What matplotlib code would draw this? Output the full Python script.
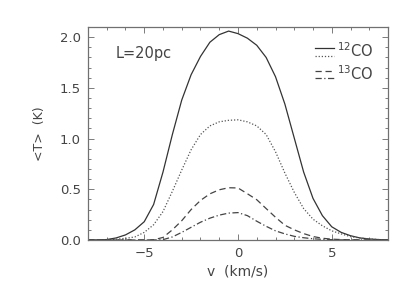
import matplotlib
matplotlib.use('Agg')
import matplotlib.pyplot as plt
from matplotlib.lines import Line2D
from matplotlib.legend_handler import HandlerBase
from matplotlib.ticker import MultipleLocator

# velocity grid (km/s)
v = [-8.0, -7.5, -7.0, -6.5, -6.0, -5.5, -5.0, -4.5, -4.0, -3.5, -3.0,
     -2.5, -2.0, -1.5, -1.0, -0.5, 0.0, 0.5, 1.0, 1.5, 2.0, 2.5, 3.0,
     3.5, 4.0, 4.5, 5.0, 5.5, 6.0, 6.5, 7.0, 7.5, 8.0]

# 12CO curves
co12_a = [0.0, 0.001, 0.004, 0.02, 0.05, 0.10, 0.18, 0.35, 0.67, 1.04, 1.38,
          1.63, 1.81, 1.95, 2.025, 2.06, 2.035, 1.99, 1.92, 1.80, 1.61, 1.34, 1.005,
          0.67, 0.41, 0.24, 0.13, 0.075, 0.042, 0.02, 0.01, 0.004, 0.001]
co12_b = [0.0, 0.001, 0.003, 0.008, 0.016, 0.03, 0.075, 0.15, 0.28, 0.48, 0.69,
          0.89, 1.04, 1.125, 1.165, 1.18, 1.185, 1.165, 1.125, 1.04, 0.87, 0.66, 0.47,
          0.31, 0.205, 0.14, 0.09, 0.06, 0.033, 0.02, 0.01, 0.004, 0.001]
# 13CO curves
co13_a = [0.0, 0.0, 0.0, 0.0, 0.0, 0.0, 0.0, 0.002, 0.025, 0.10, 0.19,
          0.30, 0.39, 0.455, 0.495, 0.515, 0.513, 0.456, 0.397, 0.31, 0.224, 0.145, 0.10,
          0.063, 0.034, 0.017, 0.008, 0.004, 0.002, 0.001, 0.0, 0.0, 0.0]
co13_b = [0.0, 0.0, 0.0, 0.0, 0.0, 0.0, 0.0, 0.0, 0.003, 0.03, 0.075,
          0.125, 0.175, 0.215, 0.245, 0.265, 0.27, 0.24, 0.185, 0.135, 0.09, 0.06, 0.036,
          0.022, 0.012, 0.006, 0.003, 0.001, 0.001, 0.0, 0.0, 0.0, 0.0]

ink = '#444444'
plt.rcParams['font.family'] = ['DejaVu Sans']
plt.rcParams['font.size'] = 9.5
plt.rcParams['text.color'] = ink
plt.rcParams['axes.labelcolor'] = ink
plt.rcParams['xtick.color'] = '#666666'
plt.rcParams['ytick.color'] = '#666666'
plt.rcParams['xtick.labelcolor'] = ink
plt.rcParams['ytick.labelcolor'] = ink
plt.rcParams['axes.edgecolor'] = '#707070'
plt.rcParams['mathtext.fontset'] = 'dejavusans'


class HandlerStack(HandlerBase):
    # draws the lines of a tuple handle stacked on top of each other
    def __init__(self, gap, **kw):
        HandlerBase.__init__(self, **kw)
        self.gap = gap

    def create_artists(self, legend, orig_handle, xdescent, ydescent,
                       width, height, fontsize, trans):
        out = []
        y0 = height / 2 + self.gap / 2
        for i, h in enumerate(orig_handle):
            y = y0 - i * self.gap
            l = Line2D([-xdescent, width - xdescent], [y, y])
            l.update_from(h)
            l.set_transform(trans)
            out.append(l)
        return out


fig = plt.figure(figsize=(4.15, 2.97), dpi=100)
ax = fig.add_axes([0.212, 0.192, 0.723, 0.717])

l1, = ax.plot(v, co12_a, color='#333333', lw=0.9, ls='-')
l2, = ax.plot(v, co12_b, color='#555555', lw=0.9, ls=(0, (1, 1.5)))
l3, = ax.plot(v, co13_a, color='#444444', lw=0.9, ls=(0, (5, 3)))
l4, = ax.plot(v, co13_b, color='#444444', lw=0.9, ls=(0, (5, 2, 1, 2)))

ax.set_xlim(-8, 8)
ax.set_ylim(0, 2.1)
ax.xaxis.set_major_locator(MultipleLocator(5))
ax.xaxis.set_minor_locator(MultipleLocator(1))
ax.yaxis.set_major_locator(MultipleLocator(0.5))
ax.yaxis.set_minor_locator(MultipleLocator(0.1))
ax.yaxis.set_major_formatter(plt.FormatStrFormatter('%.1f'))
ax.tick_params(which='both', direction='in', top=True, right=True, width=0.6)
ax.tick_params(which='major', length=4, pad=5)
ax.tick_params(which='minor', length=2)
for s in ax.spines.values():
    s.set_linewidth(0.9)

ax.set_xlabel('v  (km/s)', fontsize=10, labelpad=3)
ax.set_ylabel('<T>  (K)', fontsize=9, labelpad=10)

ax.text(0.093, 0.875, 'L=20pc', transform=ax.transAxes, fontsize=10.5, va='center')

ax.legend([(l1, l2), (l3, l4)], ['$^{12}$CO', '$^{13}$CO'],
          handler_map={tuple: HandlerStack(gap=5.5)},
          loc='upper right', frameon=False, fontsize=10.5,
          handlelength=1.3, handletextpad=0.2, labelspacing=0.25,
          borderaxespad=0.6)

plt.savefig('out.png', dpi=100)
